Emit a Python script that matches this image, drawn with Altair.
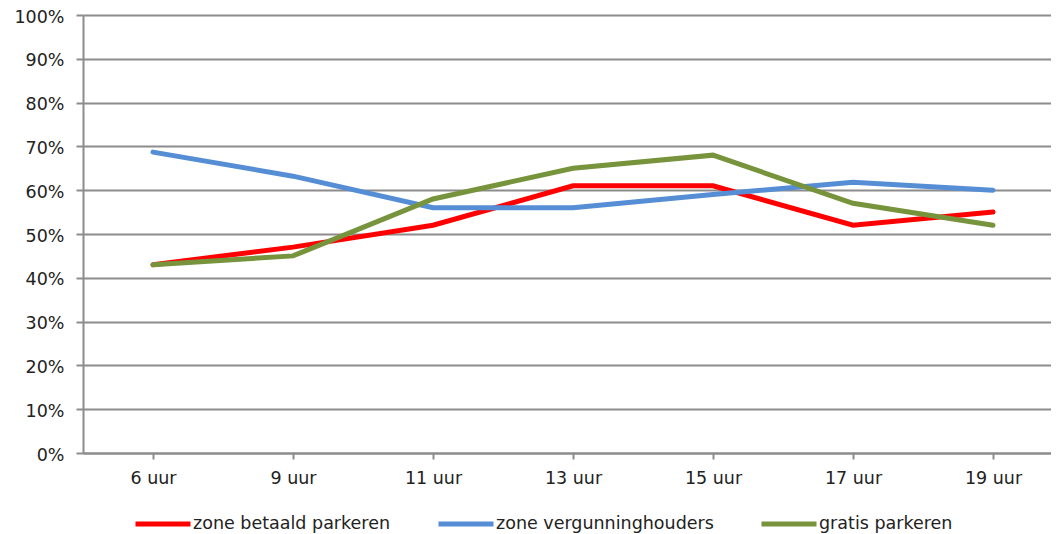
import altair as alt
import pandas as pd

hours = ["6 uur", "9 uur", "11 uur", "13 uur", "15 uur", "17 uur", "19 uur"]
series_names = ["zone betaald parkeren", "zone vergunninghouders", "gratis parkeren"]
betaald = [0.43, 0.47, 0.52, 0.61, 0.61, 0.52, 0.55]
vergunning = [0.687, 0.632, 0.56, 0.56, 0.59, 0.618, 0.60]
gratis = [0.43, 0.45, 0.58, 0.65, 0.68, 0.57, 0.52]
colors = ["#FF0000", "#558ED5", "#77933C"]

rows = []
for name, vals in zip(series_names, [betaald, vergunning, gratis]):
    for h, v in zip(hours, vals):
        rows.append({"uur": h, "waarde": v, "reeks": name, "orde": series_names.index(name)})
df = pd.DataFrame(rows)

FONT = "DejaVu Sans"
FS = 17.5
GRID = "#8c8c8c"
TXT = "#222222"

chart = alt.Chart(df).mark_line(strokeWidth=5, strokeCap="round", strokeJoin="miter").encode(
    x=alt.X("uur:N", sort=hours, title=None,
            scale=alt.Scale(paddingInner=0, paddingOuter=0),
            axis=alt.Axis(labelAngle=0, bandPosition=0, tickSize=6, tickColor=GRID, tickWidth=2,
                          domainColor=GRID, domainWidth=2, labelPadding=10, grid=False,
                          labelFont=FONT, labelFontSize=FS, labelColor=TXT)),
    y=alt.Y("waarde:Q", title=None,
            scale=alt.Scale(domain=[0, 1], nice=False),
            axis=alt.Axis(format="%", values=[i / 10 for i in range(11)], tickSize=7,
                          tickColor=GRID, tickWidth=2, domainColor=GRID, domainWidth=2,
                          gridColor=GRID, gridWidth=2, labelPadding=12, labelOffset=2,
                          labelFont=FONT, labelFontSize=FS, labelColor=TXT)),
    color=alt.Color("reeks:N", sort=series_names,
                    scale=alt.Scale(domain=series_names, range=colors),
                    legend=alt.Legend(title=None, orient="none", legendX=50, legendY=479,
                                      direction="horizontal", symbolType="stroke",
                                      symbolSize=3025, symbolStrokeWidth=5,
                                      columnPadding=37, labelOffset=0, labelLimit=400,
                                      labelFont=FONT, labelFontSize=FS, labelColor=TXT)),
    order=alt.Order("orde:Q"),
    detail="reeks:N",
).properties(
    width=980, height=438,
    autosize=alt.AutoSizeParams(type="none"),
    padding={"left": 75, "top": 7, "right": -12, "bottom": 80},
).configure_view(stroke=None)

chart.save("out.html", embed_options={"renderer": "svg", "actions": False})
